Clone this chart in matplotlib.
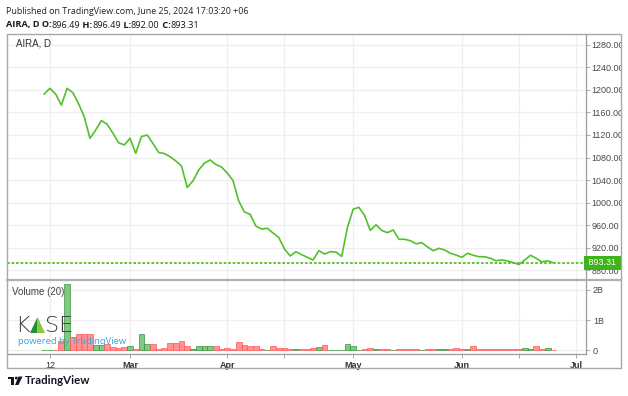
import numpy as np
import matplotlib.pyplot as plt
from matplotlib.patches import Rectangle, Polygon, Circle
from matplotlib.transforms import blended_transform_factory

# daily closes (bar index 0 = Feb 9, 2024, last = Jun 25, 2024)
close = [1192.6, 1202.7, 1192.6, 1173.0, 1202.7, 1195.0, 1175.7, 1152.3, 1114.0, 1128.7,
         1145.6, 1138.9, 1123.4, 1106.2, 1102.2, 1114.0, 1087.4, 1117.0, 1120.0, 1105.0,
         1089.0, 1087.0, 1081.4, 1074.0, 1065.0, 1027.0, 1038.3, 1057.8, 1070.0, 1075.6,
         1067.6, 1063.0, 1052.5, 1039.2, 1002.9, 983.4, 979.3, 958.5, 953.2, 954.5,
         946.1, 938.2, 917.8, 905.4, 913.0, 907.7, 903.0, 898.3, 914.8, 908.9,
         913.0, 912.4, 904.5, 955.9, 988.2, 991.7, 977.2, 950.6, 960.8, 950.6,
         946.7, 951.5, 935.0, 935.0, 932.5, 927.0, 929.0, 921.3, 914.8, 919.0,
         916.0, 910.1, 907.1, 903.0, 910.1, 906.6, 904.1, 904.1, 901.3, 897.0,
         898.3, 896.5, 893.5, 890.3, 898.3, 906.6, 901.3, 894.7, 897.0, 893.31]

# volume in millions
volume = [15, 8, 10, 300, 2190, 420, 520, 540, 520, 170,
          170, 200, 100, 80, 90, 130, 50, 520, 200, 200,
          40, 60, 220, 250, 300, 120, 30, 120, 120, 150,
          130, 40, 80, 40, 280, 170, 130, 130, 20, 10,
          140, 80, 60, 40, 40, 40, 40, 80, 110, 170,
          10, 10, 10, 200, 130, 10, 20, 80, 20, 50,
          30, 10, 25, 25, 25, 25, 10, 25, 25, 20,
          20, 50, 80, 35, 20, 130, 25, 25, 50, 50,
          25, 25, 40, 40, 80, 20, 130, 25, 80, 5]

vol_up = [1, 1, 0, 0, 1, 0, 0, 0, 0, 1,
          1, 0, 0, 0, 0, 1, 0, 1, 1, 0,
          0, 0, 0, 0, 0, 0, 1, 1, 1, 1,
          0, 0, 0, 0, 0, 0, 0, 0, 0, 1,
          0, 0, 0, 0, 1, 0, 0, 0, 1, 0,
          1, 1, 1, 1, 1, 1, 0, 0, 1, 0,
          0, 1, 0, 0, 0, 0, 1, 0, 0, 1,
          1, 0, 0, 0, 1, 0, 0, 0, 0, 0,
          0, 0, 0, 0, 1, 1, 0, 0, 1, 0]

x_ticks = [1, 15, 32, 42, 54, 73, 83, 93]
x_labels = ["12", "Mar", "Apr", "", "May", "Jun", "", "Jul"]
price_ticks = np.arange(880, 1281, 40)
vol_ticks = [0, 1000, 2000]
vol_labels = ["0", "1B", "2B"]
last_price = 893.31

W, H = 628, 396
line_green = "#52c02a"
grid_c = "#efefef"
axis_c = "#9a9a9a"
txt_c = "#4a4a4a"
font = "Liberation Sans"

fig = plt.figure(figsize=(W / 100, H / 100), dpi=100)


def box(x0, y0, x1, y1):
    return [x0 / W, 1 - y1 / H, (x1 - x0) / W, (y1 - y0) / H]


ax = fig.add_axes(box(7, 34, 586, 280))
axv = fig.add_axes(box(7, 280, 586, 354), sharex=ax)

x = np.arange(len(close))

# price pane
ax.plot(x, close, color=line_green, lw=1.2, zorder=3)
ax.axhline(last_price, color=line_green, lw=1.3, ls=(0, (1.5, 1)), zorder=3)
ax.set_ylim(862.8, 1299)
ax.set_xlim(-6.5, 94.7)
ax.set_yticks(price_ticks)
ax.yaxis.tick_right()
ax.set_yticklabels([f"{v:.2f}" for v in price_ticks])
ax.tick_params(axis="y", length=3, width=0.6, color=axis_c, pad=1,
               labelsize=6.5, labelcolor=txt_c)
ax.tick_params(axis="x", length=0, labelbottom=False)
for lbl in ax.get_yticklabels():
    lbl.set_fontfamily(font)
ax.grid(True, color=grid_c, lw=0.9)
ax.set_axisbelow(True)
for s in ["left", "top", "bottom"]:
    ax.spines[s].set_visible(False)
ax.spines["right"].set_color(axis_c)
ax.spines["right"].set_linewidth(0.9)

# last price label
tr = blended_transform_factory(ax.transAxes, ax.transData)
ax.text(1.0, last_price, " 893.31 ", transform=tr, ha="left", va="center",
        fontsize=6.5, color="white", family=font, zorder=5, clip_on=False,
        bbox=dict(boxstyle="square,pad=0.25", fc="#3fb31a", ec="none"))

# volume pane
cols_face = ["#6cbf6e" if u else "#ff8080" for u in vol_up]
cols_edge = ["#3d9440" if u else "#ff5a5a" for u in vol_up]
axv.bar(x, volume, width=1.0, color=cols_face, edgecolor=cols_edge,
        linewidth=0.6, alpha=0.85, zorder=3)
axv.set_ylim(-133, 2333)
axv.set_yticks(vol_ticks)
axv.set_yticklabels(vol_labels)
axv.yaxis.tick_right()
axv.tick_params(axis="y", length=3, width=0.6, color=axis_c, pad=2,
                labelsize=6.5, labelcolor=txt_c)
axv.set_xticks(x_ticks)
axv.set_xticklabels(x_labels)
axv.tick_params(axis="x", length=3, width=0.6, color=axis_c, pad=2,
                labelsize=6.5, labelcolor="#333333")
for lbl in axv.get_xticklabels():
    lbl.set_fontfamily(font)
    if lbl.get_text() != "12":
        lbl.set_fontweight("bold")
for lbl in axv.get_yticklabels():
    lbl.set_fontfamily(font)
axv.grid(True, color=grid_c, lw=0.9)
axv.set_axisbelow(True)
for s in ["left", "top"]:
    axv.spines[s].set_visible(False)
for s in ["right", "bottom"]:
    axv.spines[s].set_color(axis_c)
    axv.spines[s].set_linewidth(0.9)

# overlay in pixel coordinates
ov = fig.add_axes([0, 0, 1, 1], zorder=10)
ov.set_xlim(0, W)
ov.set_ylim(H, 0)
ov.axis("off")
ov.patch.set_alpha(0)

ov.add_patch(Rectangle((6.5, 34), 614, 333.5, fill=False, ec="#a8a8a8", lw=1))
ov.plot([6.5, 620.5], [280, 280], color="#b0b0b0", lw=1.6)

# clip price labels at the right border
for lbl in ax.get_yticklabels() + axv.get_yticklabels():
    lbl.set_clip_on(True)
    lbl.set_clip_path(Rectangle((0, 0), 622, H, transform=ov.transData))

ov.text(16, 44, "AIRA, D", fontsize=7, color="#333333", family=font, va="center")
ov.text(12, 292, "Volume (20)", fontsize=7, color="#444444", family=font, va="center")

ov.text(6, 12, "Published on TradingView.com, June 25, 2024 17:03:20 +06",
        fontsize=6.4, color="#222222", family="Open Sans", va="center")

fig.canvas.draw()
r = fig.canvas.get_renderer()
parts = [("AIRA, D O:", "bold"), ("896.49", "normal"), (" H:", "bold"),
         ("896.49", "normal"), (" L:", "bold"), ("892.00", "normal"),
         (" C:", "bold"), ("893.31", "normal")]
px = 6
for s, w in parts:
    t = ov.text(px, 25, s, fontsize=6.6, fontweight=w, color="#131722",
                family="Open Sans", va="center")
    px += t.get_window_extent(r).width

# KASE logo
ov.text(15, 332, "K", fontsize=16, color="#3a3a3a", family="DejaVu Sans",
        va="baseline", fontweight="light")
ov.add_patch(Polygon([(30, 333), (37.5, 317), (37.5, 333)], fc="#1f8f3a", ec="none"))
ov.add_patch(Polygon([(37.5, 317), (45, 333), (37.5, 333)], fc="#8cc63f", ec="none"))
ov.text(45, 332, "SE", fontsize=16, color="#3a3a3a", family="DejaVu Sans",
        va="baseline", fontweight="light")
ov.text(18, 341, "powered by TradingView", fontsize=6.7, color="#3fa6e8",
        family="Noto Sans", va="center")

# TradingView footer logo
ov.add_patch(Rectangle((8, 376.5), 6, 2.6, fc="#131722", ec="none"))
ov.add_patch(Rectangle((11, 376.5), 3, 8.5, fc="#131722", ec="none"))
ov.add_patch(Circle((16.3, 378), 1.4, fc="#131722", ec="none"))
ov.add_patch(Polygon([(18.5, 376.5), (22.5, 376.5), (18.5, 385), (15, 385)],
                     fc="#131722", ec="none"))
ov.text(25, 380.5, "TradingView", fontsize=8.3, color="#131722", family="Lato",
        fontweight="bold", va="center")

fig.savefig("out.png", dpi=100)
